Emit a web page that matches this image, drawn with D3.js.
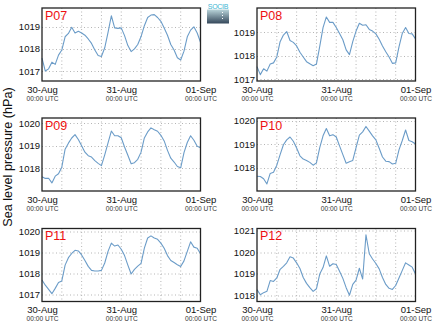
<!DOCTYPE html>
<html>
<head>
<meta charset="utf-8">
<script src="https://cdn.jsdelivr.net/npm/d3@7"></script>
<style>
  html, body { margin: 0; padding: 0; background: #fff; }
  svg { display: block; font-family: "Liberation Sans", Arial, sans-serif; }
</style>
</head>
<body>
<svg id="chart" width="434" height="327"></svg>
<script>
// ---------------- DATA ----------------
const stations = ["P07", "P08", "P09", "P10", "P11", "P12"];
// hourly sea level pressure (hPa), 30-Aug 00:00 UTC .. 01-Sep 00:00 UTC
const p07 = [1017.58, 1017.0, 1017.1, 1017.4, 1017.3, 1017.72, 1017.95, 1018.55, 1018.7, 1018.98,
  1018.72, 1018.8, 1018.72, 1018.62, 1018.45, 1018.25, 1017.95, 1017.7, 1017.66, 1018.05,
  1018.75, 1019.5, 1018.95, 1018.93, 1018.95, 1018.6, 1018.15, 1017.88, 1018.0, 1018.2,
  1018.56, 1019.05, 1019.42, 1019.53, 1019.55, 1019.42, 1019.25, 1018.95, 1018.62, 1018.2,
  1017.95, 1017.6, 1017.5, 1017.9, 1018.55, 1018.85, 1019.0, 1018.72, 1018.3];
const p08 = [1017.54, 1017.2, 1017.45, 1017.35, 1017.65, 1017.7, 1017.95, 1018.6, 1018.88, 1019.03,
  1018.65, 1018.57, 1018.42, 1018.15, 1017.95, 1017.75, 1017.66, 1017.58, 1017.65, 1018.4,
  1019.2, 1019.65, 1019.42, 1019.42, 1019.2, 1018.95, 1018.68, 1018.25, 1018.05, 1018.6,
  1019.05, 1019.38, 1019.3, 1019.32, 1019.12, 1019.05, 1018.93, 1018.7, 1018.42, 1018.17,
  1017.95, 1017.68, 1017.7, 1018.38, 1018.95, 1019.2, 1018.95, 1018.93, 1018.72];
const p09 = [1017.62, 1017.55, 1017.56, 1017.35, 1017.65, 1017.76, 1018.05, 1018.85, 1019.12, 1019.35,
  1019.5, 1019.28, 1019.0, 1018.72, 1018.56, 1018.5, 1018.34, 1018.22, 1018.12, 1018.6,
  1019.13, 1019.66, 1019.45, 1019.45, 1019.36, 1018.95, 1018.58, 1018.2, 1018.25, 1018.4,
  1018.72, 1019.35, 1019.62, 1019.8, 1019.72, 1019.65, 1019.47, 1019.22, 1018.8, 1018.45,
  1018.28, 1018.08, 1018.02, 1018.7, 1019.15, 1019.45, 1019.25, 1018.98, 1018.92];
const p10 = [1017.63, 1017.62, 1017.52, 1017.3, 1017.75, 1017.8, 1018.1, 1018.55, 1018.97, 1019.18,
  1019.3, 1019.12, 1018.83, 1018.5, 1018.36, 1018.3, 1018.22, 1018.1, 1018.2, 1018.85,
  1019.35, 1019.66, 1019.35, 1019.4, 1019.3, 1018.92, 1018.55, 1018.18, 1018.25, 1018.3,
  1018.85, 1019.38, 1019.52, 1019.75, 1019.55, 1019.35, 1019.18, 1018.82, 1018.45, 1018.27,
  1018.25, 1018.15, 1018.18, 1018.75, 1019.15, 1019.6, 1019.15, 1019.1, 1019.0];
const p11 = [1017.7, 1017.45, 1017.25, 1017.05, 1017.3, 1017.58, 1017.65, 1018.4, 1018.75, 1018.95,
  1019.1, 1019.07, 1018.88, 1018.62, 1018.34, 1018.15, 1018.12, 1018.12, 1018.15, 1018.5,
  1019.05, 1019.44, 1019.3, 1019.35, 1019.15, 1018.85, 1018.4, 1017.98, 1018.2, 1018.35,
  1018.48, 1019.2, 1019.68, 1019.78, 1019.68, 1019.62, 1019.44, 1019.2, 1018.85, 1018.62,
  1018.52, 1018.42, 1018.33, 1018.6, 1019.05, 1019.5, 1019.25, 1019.2, 1018.94];
const p12 = [1018.26, 1018.02, 1018.12, 1018.18, 1018.68, 1018.64, 1018.8, 1019.2, 1019.34, 1019.5,
  1019.78, 1019.72, 1019.5, 1019.24, 1018.82, 1018.55, 1018.35, 1018.18, 1018.3, 1018.98,
  1019.28, 1019.82, 1019.34, 1019.46, 1019.42, 1019.11, 1018.78, 1018.35, 1018.0, 1018.5,
  1018.7, 1019.25, 1018.75, 1020.8, 1019.92, 1019.68, 1019.47, 1019.22, 1018.82, 1018.5,
  1018.32, 1018.27, 1018.45, 1018.8, 1019.15, 1019.5, 1019.4, 1019.3, 1018.98];
const seriesValues = [p07, p08, p09, p10, p11, p12];

const yMin = [1016.55, 1016.93, 1016.99, 1017.0, 1016.68, 1017.71];
const yMax = [1019.85, 1020.03, 1020.24, 1020.11, 1020.13, 1021.09];
const yTickValues = [
  [1017, 1018, 1019],
  [1017, 1018, 1019],
  [1018, 1019, 1020],
  [1018, 1019, 1020],
  [1017, 1018, 1019, 1020],
  [1018, 1019, 1020, 1021]
];
const xTickLabels = ["30-Aug", "31-Aug", "01-Sep"];
const xTickSubLabel = "00:00 UTC";
const yAxisTitle = "Sea level pressure (hPa)";
const logoText = "SOCIB";

// ---------------- LAYOUT ----------------
const colLeft = [42, 257];
const plotW = 158.5;
const rowTop = [8, 118, 228.5];
const plotH = 73;
const lineColor = "#6b9cc8";

const svg = d3.select("#chart");
const t0 = new Date(Date.UTC(2016, 7, 30, 0, 0));
const t1 = new Date(Date.UTC(2016, 8, 1, 0, 0));
const xTickDates = [t0, new Date(Date.UTC(2016, 7, 31)), t1];

stations.forEach((name, i) => {
  const col = i % 2, row = Math.floor(i / 2);
  const left = colLeft[col], top = rowTop[row];
  const g = svg.append("g").attr("transform", `translate(${left},${top})`);

  const x = d3.scaleUtc().domain([t0, t1]).range([0, plotW]);
  const y = d3.scaleLinear().domain([yMin[i], yMax[i]]).range([plotH, 0]);

  // vertical grid every 6 hours
  const vgrid = d3.utcHour.every(6).range(t0, t1).filter(d => +d !== +t0);
  g.append("g").selectAll("line").data(vgrid).join("line")
    .attr("x1", d => x(d)).attr("x2", d => x(d))
    .attr("y1", 0).attr("y2", plotH)
    .attr("stroke", "#b5b5b5").attr("stroke-width", 1)
    .attr("stroke-dasharray", "1,2.5");

  // horizontal grid
  g.append("g").selectAll("line").data(yTickValues[i]).join("line")
    .attr("x1", 0).attr("x2", plotW)
    .attr("y1", d => Math.round(y(d)) + 0.5).attr("y2", d => Math.round(y(d)) + 0.5)
    .attr("stroke", "#b5b5b5").attr("stroke-width", 1)
    .attr("stroke-dasharray", "1,2.5");

  // y axis labels
  const yAxis = d3.axisLeft(y).tickValues(yTickValues[i]).tickSize(0).tickPadding(2).tickFormat(d3.format("d"));
  const ya = g.append("g").call(yAxis);
  ya.select(".domain").remove();
  ya.selectAll("text").attr("font-size", 9.5).attr("fill", "#111")
    .attr("font-family", "Liberation Sans, Arial, sans-serif");

  // x axis labels
  const xAxis = d3.axisBottom(x).tickValues(xTickDates).tickSize(0).tickPadding(5)
    .tickFormat((d, k) => xTickLabels[k]);
  const xa = g.append("g").attr("transform", `translate(0,${plotH})`).call(xAxis);
  xa.select(".domain").remove();
  xa.selectAll("text").attr("font-size", 9.5).attr("fill", "#111")
    .attr("font-family", "Liberation Sans, Arial, sans-serif");
  xa.selectAll(".tick").append("text")
    .attr("y", 19.5).attr("text-anchor", "middle")
    .attr("font-size", 6.6).attr("fill", "#333")
    .attr("font-family", "Liberation Sans, Arial, sans-serif")
    .text(xTickSubLabel);

  // series line
  const line = d3.line()
    .x((d, k) => x(d3.utcHour.offset(t0, k)))
    .y(d => y(d));
  g.append("path").datum(seriesValues[i])
    .attr("d", line)
    .attr("fill", "none")
    .attr("stroke", lineColor)
    .attr("stroke-width", 1.1)
    .attr("stroke-linejoin", "round");

  // frame
  g.append("rect")
    .attr("x", 0).attr("y", 0).attr("width", plotW).attr("height", plotH)
    .attr("fill", "none").attr("stroke", "#222").attr("stroke-width", 1.3);

  // station title
  g.append("text")
    .attr("x", 3).attr("y", 11.5)
    .attr("font-size", 12.5).attr("fill", "#ee1111")
    .text(name);
});

// y-axis title
svg.append("text")
  .attr("transform", "translate(12,157) rotate(-90)")
  .attr("text-anchor", "middle")
  .attr("font-size", 12.7).attr("fill", "#111")
  .text(yAxisTitle);

// logo
const defs = svg.append("defs");
const grad = defs.append("linearGradient").attr("id", "logoGrad")
  .attr("x1", 0).attr("y1", 0).attr("x2", 0).attr("y2", 1);
grad.append("stop").attr("offset", "0%").attr("stop-color", "#b9d4da");
grad.append("stop").attr("offset", "100%").attr("stop-color", "#34475a");
svg.append("rect").attr("x", 207).attr("y", 9.5).attr("width", 22).attr("height", 14)
  .attr("fill", "url(#logoGrad)");
svg.append("line").attr("x1", 222.5).attr("x2", 222.5).attr("y1", 12).attr("y2", 21)
  .attr("stroke", "#fff").attr("stroke-width", 1).attr("stroke-dasharray", "1,2");
svg.append("text").attr("x", 218).attr("y", 8.5).attr("text-anchor", "middle")
  .attr("font-size", 7).attr("fill", "#3cb4d2").attr("letter-spacing", -0.3)
  .text(logoText);
</script>
</body>
</html>
